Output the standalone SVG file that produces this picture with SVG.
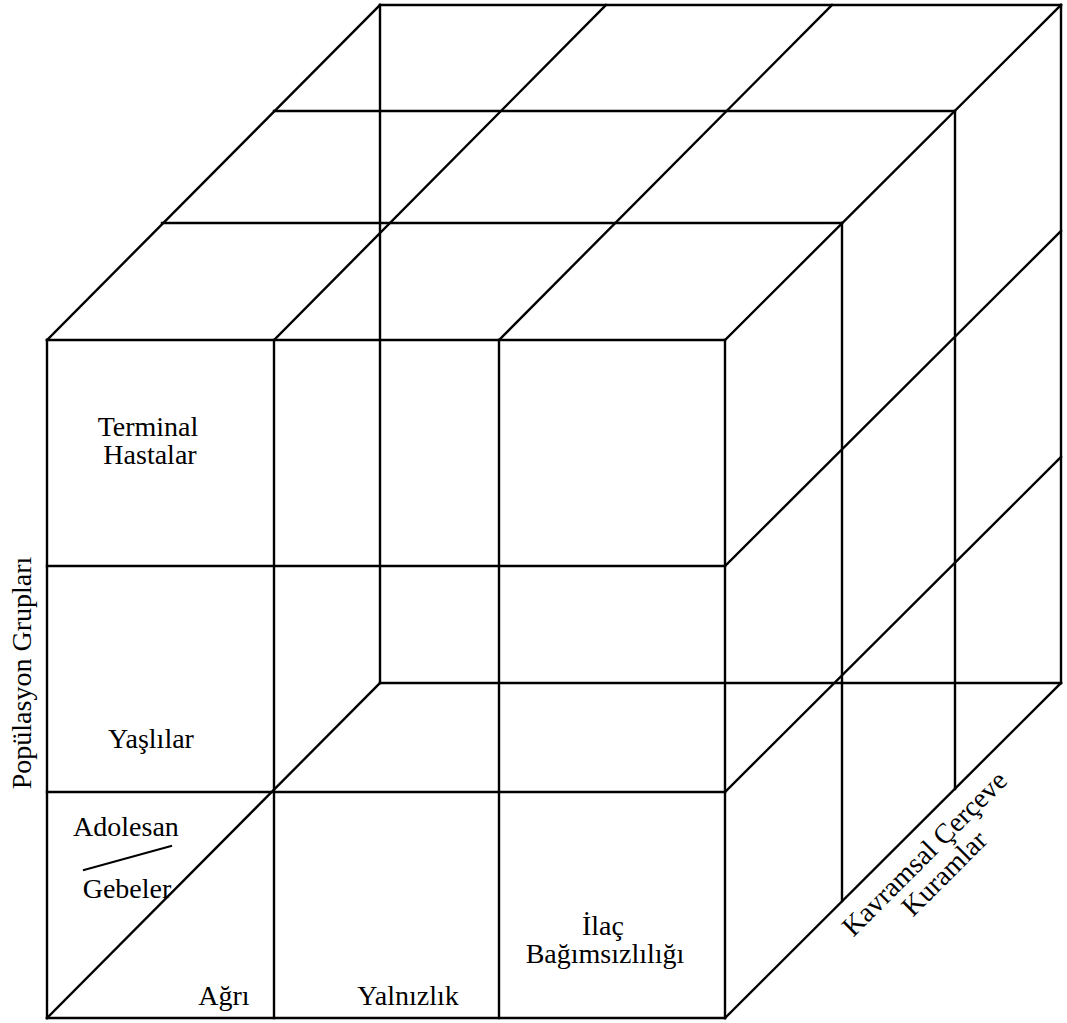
<svg xmlns="http://www.w3.org/2000/svg" width="1067" height="1023" viewBox="0 0 1067 1023">
<style>
.ln{stroke:#000;stroke-width:2.4;fill:none;stroke-linecap:square}
.lbl{font-family:"Liberation Serif","Times New Roman",serif;font-size:28px;fill:#000}
.mid{text-anchor:middle}
</style>
<rect width="1067" height="1023" fill="#fff"/>
<g id="cube" class="ln">
  <g id="front-face">
    <line x1="47" y1="340" x2="47" y2="1018"/>
    <line x1="274" y1="340" x2="274" y2="1018"/>
    <line x1="499" y1="340" x2="499" y2="1018"/>
    <line x1="725" y1="340" x2="725" y2="1018"/>
    <line x1="47" y1="340" x2="725" y2="340"/>
    <line x1="47" y1="566" x2="725" y2="566"/>
    <line x1="47" y1="792" x2="725" y2="792"/>
    <line x1="47" y1="1018" x2="725" y2="1018"/>
  </g>
  <g id="top-face">
    <line x1="162" y1="223" x2="842" y2="223"/>
    <line x1="274" y1="111" x2="955" y2="111"/>
    <line x1="380" y1="5" x2="1061" y2="5"/>
    <line x1="47" y1="340" x2="380" y2="5"/>
    <line x1="274" y1="340" x2="606" y2="5"/>
    <line x1="499" y1="340" x2="832" y2="5"/>
    <line x1="725" y1="340" x2="1061" y2="5"/>
  </g>
  <g id="right-face">
    <line x1="842" y1="223" x2="842" y2="901"/>
    <line x1="955" y1="111" x2="955" y2="789"/>
    <line x1="1061" y1="5" x2="1061" y2="683"/>
    <line x1="725" y1="566" x2="1061" y2="231"/>
    <line x1="725" y1="792" x2="1061" y2="457"/>
    <line x1="725" y1="1018" x2="1061" y2="683"/>
  </g>
  <g id="back-edges">
    <line x1="380" y1="5" x2="380" y2="683"/>
    <line x1="380" y1="683" x2="1061" y2="683"/>
    <line x1="47" y1="1018" x2="380" y2="683"/>
  </g>
</g>
<g id="population-labels" class="lbl">
  <text id="terminal" class="mid" x="148" y="436">Terminal</text>
  <text id="hastalar" class="mid" x="150" y="464">Hastalar</text>
  <text id="yaslilar" class="mid" x="151" y="748">Yaşlılar</text>
  <text id="adolesan" class="mid" x="126" y="836">Adolesan</text>
  <line class="ln" x1="84" y1="870" x2="171" y2="846" style="stroke-width:2.2"/>
  <text id="gebeler" class="mid" x="127" y="898">Gebeler</text>
</g>
<g id="problem-labels" class="lbl">
  <text id="agri" class="mid" x="224" y="1005">Ağrı</text>
  <text id="yalnizlik" class="mid" x="408" y="1005">Yalnızlık</text>
  <text id="ilac" class="mid" x="603" y="935">İlaç</text>
  <text id="bagimsizlik" class="mid" x="605" y="963">Bağımsızlılığı</text>
</g>
<g id="axis-labels" class="lbl">
  <text id="populasyon" class="mid" transform="translate(31,673) rotate(-90)">Popülasyon Grupları</text>
  <g transform="translate(931,860) rotate(-45)">
    <text id="kavramsal" class="mid" x="0" y="0">Kavramsal Çerçeve</text>
    <text id="kuramlar" class="mid" x="0" y="28">Kuramlar</text>
  </g>
</g>
</svg>
